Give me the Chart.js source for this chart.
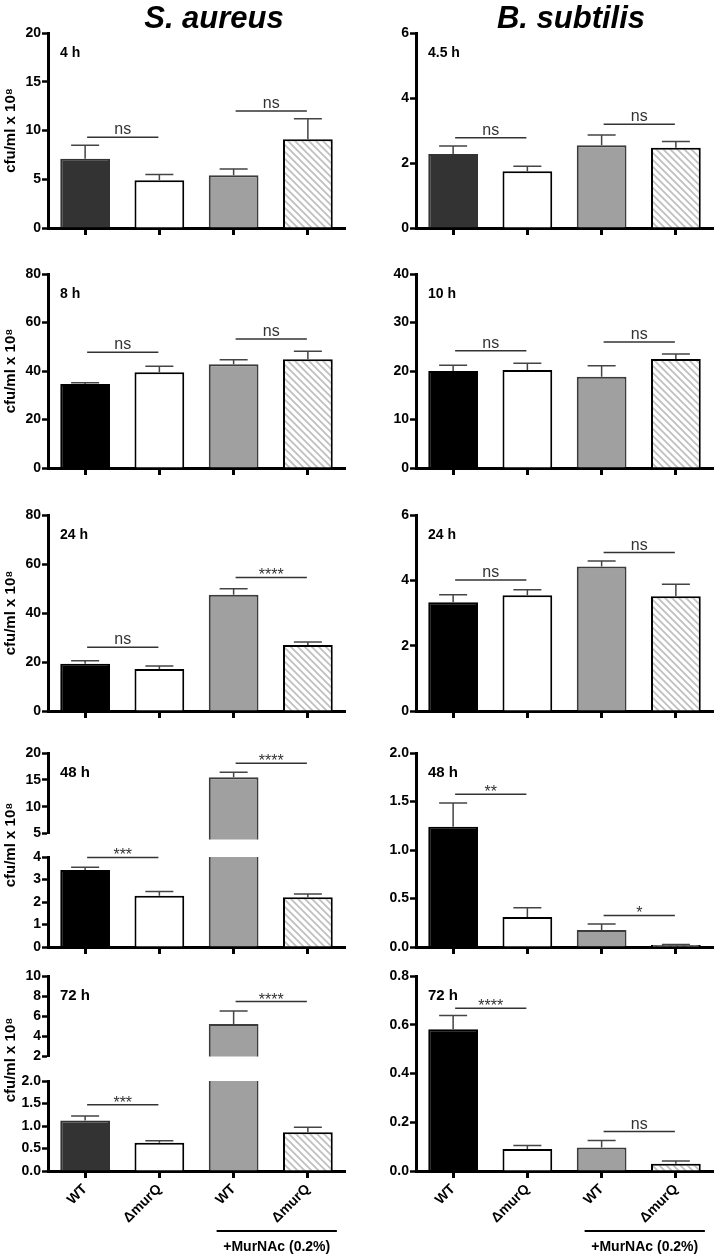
<!DOCTYPE html>
<html>
<head>
<meta charset="utf-8">
<script src="https://cdn.jsdelivr.net/npm/chart.js@4.4.1/dist/chart.umd.min.js"></script>
<style>
  body { margin: 0; background: #fff; width: 715px; height: 1254px; position: relative; overflow: hidden; }
  canvas { position: absolute; }
  .head { position: absolute; top: 0px; width: 240px; text-align: center; line-height: 30px;
          font: italic bold 31px "Liberation Sans", Arial, sans-serif; color: #000; }
</style>
</head>
<body>
<script>
const categories = ["WT", "ΔmurQ", "WT", "ΔmurQ"];
const saTimes = ["4 h", "8 h", "24 h", "48 h", "72 h"];
const bsTimes = ["4.5 h", "10 h", "24 h", "48 h", "72 h"];
const yTitle = "cfu/ml x 10⁸";
const groupLabel = "+MurNAc (0.2%)";

// S. aureus (mean, SEM, significance: WT vs ΔmurQ, then +MurNAc pair)
const sa4 = [7.1, 4.9, 5.4, 9.1];
const sa4Err = [1.4, 0.6, 0.65, 2.1];
const sa4SigText = ["ns", "ns"];
const sa4SigAt = [9.3, 12.0];
const sa4Ticks = [0, 5, 10, 15, 20];

const sa8 = [34.6, 39.5, 42.8, 44.8];
const sa8Err = [0.6, 2.5, 1.8, 3.3];
const sa8SigText = ["ns", "ns"];
const sa8SigAt = [47.7, 53.2];
const sa8Ticks = [0, 20, 40, 60, 80];

const sa24 = [19.3, 17.1, 47.5, 26.9];
const sa24Err = [1.2, 1.3, 2.4, 1.3];
const sa24SigText = ["ns", "****"];
const sa24SigAt = [26.0, 54.5];
const sa24Ticks = [0, 20, 40, 60, 80];

const sa48 = [3.42, 2.28, 15.5, 2.21];
const sa48Err = [0.12, 0.19, 0.9, 0.15];
const sa48SigText = ["***", "****"];
const sa48SigAt = [3.98, 18.1];
const sa48TicksLow = [0, 1, 2, 3, 4];
const sa48TicksHigh = [5, 10, 15, 20];

const sa72 = [1.12, 0.63, 5.24, 0.86];
const sa72Err = [0.10, 0.045, 1.29, 0.11];
const sa72SigText = ["***", "****"];
const sa72SigAt = [1.47, 7.46];
const sa72TicksLow = [0, 0.5, 1, 1.5, 2];
const sa72TicksHigh = [2, 4, 6, 8, 10];

// B. subtilis
const bs45 = [2.28, 1.75, 2.55, 2.47];
const bs45Err = [0.24, 0.15, 0.31, 0.19];
const bs45SigText = ["ns", "ns"];
const bs45SigAt = [2.78, 3.19];
const bs45Ticks = [0, 2, 4, 6];

const bs10 = [20.0, 20.2, 18.8, 22.5];
const bs10Err = [1.2, 1.4, 2.3, 1.0];
const bs10SigText = ["ns", "ns"];
const bs10SigAt = [24.2, 26.0];
const bs10Ticks = [0, 10, 20, 30, 40];

const bs24 = [3.33, 3.54, 4.42, 3.51];
const bs24Err = [0.23, 0.17, 0.17, 0.37];
const bs24SigText = ["ns", "ns"];
const bs24SigAt = [4.01, 4.85];
const bs24Ticks = [0, 2, 4, 6];

const bs48 = [1.24, 0.31, 0.175, 0.02];
const bs48Err = [0.245, 0.095, 0.062, 0.005];
const bs48SigText = ["**", "*"];
const bs48SigAt = [1.574, 0.326];
const bs48Ticks = [0, 0.5, 1, 1.5, 2];

const bs72 = [0.582, 0.090, 0.096, 0.030];
const bs72Err = [0.056, 0.015, 0.029, 0.011];
const bs72SigText = ["****", "ns"];
const bs72SigAt = [0.668, 0.162];
const bs72Ticks = [0, 0.2, 0.4, 0.6, 0.8];

const FONT = '"Liberation Sans", Arial, sans-serif';
Chart.defaults.font.family = FONT;
Chart.defaults.color = "#000";

function hatch(ctx) {
  const c = document.createElement("canvas");
  c.width = c.height = 7;
  const g = c.getContext("2d");
  g.fillStyle = "#fff";
  g.fillRect(0, 0, 7, 7);
  g.strokeStyle = "#c0c0c0";
  g.lineWidth = 1.8;
  g.beginPath();
  g.moveTo(-2, -2); g.lineTo(9, 9);
  g.moveTo(-2, 5); g.lineTo(2, 9);
  g.moveTo(5, -2); g.lineTo(9, 2);
  g.stroke();
  return ctx.createPattern(c, "repeat");
}

// error bars, significance bars, panel labels, group label
const extras = {
  id: "extras",
  afterDatasetsDraw(chart, args, o) {
    const { ctx, chartArea: a } = chart;
    const x = chart.scales.x, y = chart.scales.y;
    ctx.save();
    ctx.strokeStyle = "#444";
    ctx.lineWidth = 1.5;
    o.vals.forEach((v, i) => {
      if (v < y.min || v > y.max) return;
      const cx = x.getPixelForValue(i);
      const y0 = y.getPixelForValue(v), y1 = y.getPixelForValue(v + o.errs[i]);
      ctx.beginPath();
      ctx.moveTo(cx, y0); ctx.lineTo(cx, y1);
      ctx.moveTo(cx - 14, y1); ctx.lineTo(cx + 14, y1);
      ctx.stroke();
    });
    ctx.strokeStyle = "#333";
    ctx.fillStyle = "#333";
    ctx.textAlign = "center";
    o.sigText.forEach((t, k) => {
      const lvl = o.sigAt[k];
      if (lvl < y.min || lvl > y.max) return;
      const x0 = x.getPixelForValue(k * 2) + 2, x1 = x.getPixelForValue(k * 2 + 1) - 1;
      const ly = y.getPixelForValue(lvl);
      ctx.beginPath(); ctx.moveTo(x0, ly); ctx.lineTo(x1, ly); ctx.stroke();
      const stars = /^\*+$/.test(t);
      ctx.font = "16px " + FONT;
      ctx.fillText(t, (x0 + x1) / 2, stars ? ly + 3 : ly - 3);
    });
    ctx.fillStyle = "#000";
    if (o.label) {
      ctx.textAlign = "left";
      ctx.font = "bold " + o.labelSize + "px " + FONT;
      ctx.fillText(o.label, a.left + 12, a.top + 24);
    }
    if (o.titleAt) {
      ctx.save();
      ctx.translate(11, o.titleAt);
      ctx.rotate(-Math.PI / 2);
      ctx.textAlign = "center";
      ctx.textBaseline = "middle";
      ctx.font = "bold 15px " + FONT;
      ctx.fillText(yTitle, 0, 0);
      ctx.restore();
    }
    if (o.group) {
      const x0 = x.getPixelForValue(2) - 17, x1 = x.getPixelForValue(3) + 29;
      const ly = a.bottom + 60;
      ctx.strokeStyle = "#000";
      ctx.lineWidth = 2;
      ctx.beginPath(); ctx.moveTo(x0, ly); ctx.lineTo(x1, ly); ctx.stroke();
      ctx.textAlign = "center";
      ctx.font = "bold 14px " + FONT;
      ctx.fillText(groupLabel, (x0 + x1) / 2, ly + 20);
    }
    ctx.restore();
  }
};

const LEFT = { left: 0, w: 360, yW: 48, padR: 15 };
const RIGHT = { left: 360, w: 355, yW: 56, padR: 2 };

function panel(p) {
  const col = p.col;
  const cTop = p.canvasTop !== undefined ? p.canvasTop : p.top - 12;
  const xH = p.xH !== undefined ? p.xH : 14;
  const padB = p.padB || 0;
  const cBottom = p.zero + xH + padB;
  const cv = document.createElement("canvas");
  cv.width = col.w;
  cv.height = cBottom - cTop;
  cv.style.left = col.left + "px";
  cv.style.top = cTop + "px";
  document.body.appendChild(cv);
  const ctx = cv.getContext("2d");
  const dark = p.dark || "#000";
  const ticks = p.ticks;
  new Chart(cv, {
    type: "bar",
    data: {
      labels: categories,
      datasets: [{
        data: p.vals,
        backgroundColor: [dark, "#fff", "#a0a0a0", hatch(ctx)],
        borderColor: [dark, "#000", "#3c3c3c", "#000"],
        borderWidth: 2,
        barPercentage: 0.67,
        categoryPercentage: 1,
        clip: { left: 5, right: 5, top: 0, bottom: p.clipB || 0 }
      }]
    },
    options: {
      responsive: false,
      animation: false,
      events: [],
      layout: { padding: { top: p.top - cTop, bottom: padB, left: 0, right: col.padR } },
      scales: {
        x: {
          display: p.showX !== false,
          afterFit: (s) => { s.height = xH; },
          grid: { offset: false, drawOnChartArea: false, tickLength: 7, tickWidth: 3, tickColor: "#000" },
          border: { display: true, color: "#000", width: 3 },
          ticks: {
            display: !!p.xLabels,
            minRotation: 45, maxRotation: 45, padding: 3,
            font: { size: 14, weight: "bold" }, color: "#000"
          }
        },
        y: {
          min: ticks[0],
          max: ticks[ticks.length - 1],
          afterFit: (s) => { s.width = col.yW; },
          afterBuildTicks: (s) => { s.ticks = ticks.map((v) => ({ value: v })); },
          grid: { drawOnChartArea: false, tickLength: 6, tickWidth: 2.5, tickColor: "#000" },
          border: { display: true, color: "#000", width: 3 },
          ticks: {
            autoSkip: false,
            padding: 1,
            font: { size: 14, weight: "bold" }, color: "#000",
            callback: (v) => Number(v).toFixed(p.dec || 0)
          },
          title: {
            display: !!p.yTitle,
            text: yTitle,
            font: { size: 15, weight: "bold" }, color: "#000",
            padding: { top: 2, bottom: 0 }
          }
        }
      },
      plugins: {
        legend: { display: false },
        tooltip: { enabled: false },
        extras: {
          vals: p.vals, errs: p.errs, sigText: p.sigText, sigAt: p.sigAt,
          label: p.label, labelSize: p.labelSize || 14,
          titleAt: p.titleAt !== undefined ? p.titleAt - cTop : null,
          group: !!p.group
        }
      }
    },
    plugins: [extras]
  });
}

// row 1
panel({ col: LEFT, top: 33, zero: 228, vals: sa4, errs: sa4Err, sigText: sa4SigText, sigAt: sa4SigAt,
        ticks: sa4Ticks, dark: "#333", label: saTimes[0], yTitle: true });
panel({ col: RIGHT, top: 33, zero: 228, vals: bs45, errs: bs45Err, sigText: bs45SigText, sigAt: bs45SigAt,
        ticks: bs45Ticks, dark: "#333", label: bsTimes[0] });
// row 2
panel({ col: LEFT, top: 274, zero: 468, vals: sa8, errs: sa8Err, sigText: sa8SigText, sigAt: sa8SigAt,
        ticks: sa8Ticks, label: saTimes[1], yTitle: true });
panel({ col: RIGHT, top: 274, zero: 468, vals: bs10, errs: bs10Err, sigText: bs10SigText, sigAt: bs10SigAt,
        ticks: bs10Ticks, label: bsTimes[1] });
// row 3
panel({ col: LEFT, top: 515, zero: 711, vals: sa24, errs: sa24Err, sigText: sa24SigText, sigAt: sa24SigAt,
        ticks: sa24Ticks, label: saTimes[2], yTitle: true });
panel({ col: RIGHT, top: 515, zero: 711, vals: bs24, errs: bs24Err, sigText: bs24SigText, sigAt: bs24SigAt,
        ticks: bs24Ticks, label: bsTimes[2] });
// row 4 (broken axis on the left)
panel({ col: LEFT, top: 753, zero: 837, xH: 0, padB: 6, clipB: 6, showX: false, vals: sa48, errs: sa48Err,
        sigText: sa48SigText, sigAt: sa48SigAt, ticks: sa48TicksHigh, label: saTimes[3], labelSize: 15 });
panel({ col: LEFT, canvasTop: 741, top: 857, zero: 947, vals: sa48, errs: sa48Err,
        sigText: sa48SigText, sigAt: sa48SigAt, ticks: sa48TicksLow, titleAt: 845 });
panel({ col: RIGHT, top: 753, zero: 947, vals: bs48, errs: bs48Err, sigText: bs48SigText, sigAt: bs48SigAt,
        ticks: bs48Ticks, dec: 1, label: bsTimes[3], labelSize: 15 });
// row 5 (broken axis on the left)
panel({ col: LEFT, top: 976, zero: 1066, xH: 0, showX: false, vals: sa72, errs: sa72Err,
        sigText: sa72SigText, sigAt: sa72SigAt, ticks: sa72TicksHigh, dark: "#333", label: saTimes[4], labelSize: 15 });
panel({ col: LEFT, canvasTop: 964, top: 1081, zero: 1171, xH: 83, vals: sa72, errs: sa72Err,
        sigText: sa72SigText, sigAt: sa72SigAt, ticks: sa72TicksLow, dec: 1, dark: "#333",
        titleAt: 1060, xLabels: true, group: true });
panel({ col: RIGHT, top: 976, zero: 1171, xH: 83, vals: bs72, errs: bs72Err, sigText: bs72SigText, sigAt: bs72SigAt,
        ticks: bs72Ticks, dec: 1, label: bsTimes[4], labelSize: 15, xLabels: true, group: true });
</script>
<div class="head" style="left:94px">S. aureus</div>
<div class="head" style="left:451px">B. subtilis</div>
</body>
</html>
